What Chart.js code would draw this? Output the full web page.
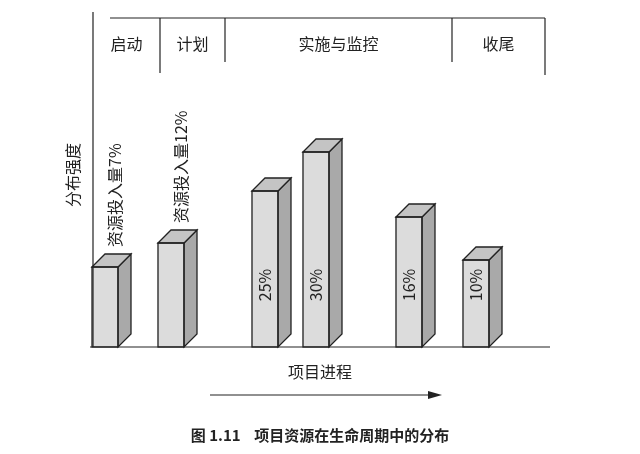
<!DOCTYPE html>
<html><head><meta charset="utf-8">
<script src="https://cdn.jsdelivr.net/npm/chart.js@4"></script>
<style>body{margin:0;background:#fff}#w{width:640px;height:454px;position:relative}</style>
</head><body><div id="w"><canvas id="c"></canvas></div>
<script>
const barPositions = [12, 78, 172, 223, 316, 383];
const barHeights = [80, 104, 156, 195, 130, 87];
const barLabels = ['资源投入量7%', '资源投入量12%', '25%', '30%', '16%', '10%'];
const phaseNames = ['启动', '计划', '实施与监控', '收尾'];
const phaseBounds = [0, 67, 132, 359, 452];
const yTitle = '分布强度';
const xTitle = '项目进程';
const caption = '图 1.11    项目资源在生命周期中的分布';
const F = '"Noto Sans CJK SC", sans-serif';

const deco = {
  id: 'deco',
  afterDatasetsDraw(chart) {
    const ctx = chart.ctx, xs = chart.scales.x, ys = chart.scales.y, ca = chart.chartArea;
    const meta = chart.getDatasetMeta(0);
    const d = 13;
    ctx.save();
    ctx.lineWidth = 1.3; ctx.strokeStyle = '#222';
    meta.data.forEach((b, i) => {
      const l = b.x - b.width / 2, r = b.x + b.width / 2, t = b.y, bt = b.base;
      ctx.fillStyle = '#a9a9a9';
      ctx.beginPath(); ctx.moveTo(r, t); ctx.lineTo(r + d, t - d); ctx.lineTo(r + d, bt - d); ctx.lineTo(r, bt); ctx.closePath(); ctx.fill(); ctx.stroke();
      ctx.fillStyle = '#c4c4c4';
      ctx.beginPath(); ctx.moveTo(l, t); ctx.lineTo(l + d, t - d); ctx.lineTo(r + d, t - d); ctx.lineTo(r, t); ctx.closePath(); ctx.fill(); ctx.stroke();
      ctx.strokeRect(l, t, r - l, bt - t);
      ctx.save();
      ctx.fillStyle = '#222';
      ctx.font = '16px ' + F;
      if (i < 2) {
        ctx.translate(b.x + 10, t - d - 7);
        ctx.rotate(-Math.PI / 2);
        ctx.textAlign = 'left'; ctx.textBaseline = 'middle';
        ctx.fillText(barLabels[i], 0, 0);
      } else {
        ctx.translate(b.x, bt - 62);
        ctx.rotate(-Math.PI / 2);
        ctx.textAlign = 'center'; ctx.textBaseline = 'middle';
        ctx.fillText(barLabels[i], 0, 0);
      }
      ctx.restore();
    });
    ctx.strokeStyle = '#222'; ctx.lineWidth = 1.2;
    ctx.beginPath();
    ctx.moveTo(ca.left, 12); ctx.lineTo(ca.left, ca.bottom);
    ctx.moveTo(ca.left - 3, ca.bottom); ctx.lineTo(ca.right + 5, ca.bottom);
    ctx.moveTo(ca.left + 17, ca.top); ctx.lineTo(ca.right, ca.top);
    ctx.stroke();
    const lens = [0, 55, 44, 44, 57];
    for (let k = 1; k < phaseBounds.length; k++) {
      const x = xs.getPixelForValue(phaseBounds[k]);
      ctx.beginPath(); ctx.moveTo(x, ca.top); ctx.lineTo(x, ca.top + lens[k]); ctx.stroke();
    }
    ctx.fillStyle = '#222'; ctx.font = '16px ' + F; ctx.textAlign = 'center'; ctx.textBaseline = 'middle';
    phaseNames.forEach((n, k) => {
      ctx.fillText(n, (xs.getPixelForValue(phaseBounds[k]) + xs.getPixelForValue(phaseBounds[k + 1])) / 2, 44);
    });
    ctx.save(); ctx.translate(73, 175); ctx.rotate(-Math.PI / 2); ctx.fillText(yTitle, 0, 0); ctx.restore();
    ctx.fillText(xTitle, 320, 372);
    ctx.beginPath(); ctx.moveTo(210, 395); ctx.lineTo(432, 395); ctx.stroke();
    ctx.beginPath(); ctx.moveTo(442, 395); ctx.lineTo(428, 391); ctx.lineTo(428, 399); ctx.closePath(); ctx.fill();
    ctx.font = 'bold 15px ' + F;
    ctx.fillText(caption, 320, 435);
    ctx.restore();
  }
};

new Chart(document.getElementById('c'), {
  type: 'bar',
  data: { datasets: [{ data: barPositions.map((x, i) => ({ x: x, y: barHeights[i] })),
    backgroundColor: '#dcdcdc', borderWidth: 0, barThickness: 26 }] },
  options: {
    responsive: true, maintainAspectRatio: false, animation: false,
    layout: { padding: { left: 93, right: 95, top: 18, bottom: 107 } },
    plugins: { legend: { display: false }, tooltip: { enabled: false } },
    scales: {
      x: { type: 'linear', min: 0, max: 452, display: false, offset: false, grid: { offset: false } },
      y: { min: 0, max: 329, display: false }
    }
  },
  plugins: [deco]
});
</script></body></html>
